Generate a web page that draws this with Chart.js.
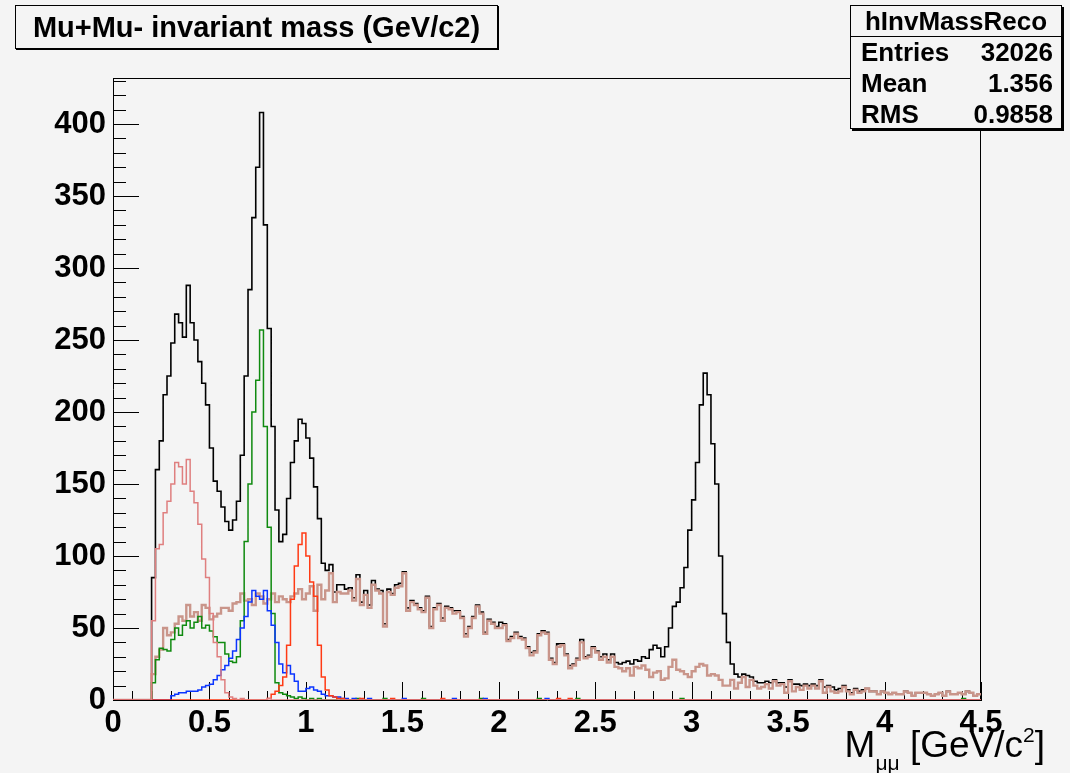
<!DOCTYPE html>
<html>
<head>
<meta charset="utf-8">
<script src="https://cdn.jsdelivr.net/npm/chart.js@4.4.0/dist/chart.umd.min.js"></script>
<style>
html,body{margin:0;padding:0;background:#f4f4f4;}
#wrap{position:relative;width:1070px;height:773px;overflow:hidden;background:#f4f4f4;}
#c{position:absolute;left:0;top:0;}
.box{position:absolute;box-sizing:border-box;background:#f4f4f4;border:1px solid #000;
  font-family:"Liberation Sans",Arial,Helvetica,sans-serif;font-weight:bold;color:#000;}
#title{left:15px;top:5px;width:483px;height:44px;box-shadow:1px 1px 0 #000;
  font-size:29px;line-height:42px;text-align:center;white-space:nowrap;}
#stats{left:850px;top:5px;width:212px;height:124px;box-shadow:2px 2px 0 #000;font-size:26px;}
#stats .st{height:30px;line-height:30px;text-align:center;border-bottom:1px solid #000;}
#stats .row{height:31px;line-height:31px;display:flex;justify-content:space-between;padding:0 8px 0 10px;}
#xtitle{position:absolute;right:25px;top:723px;font-family:"Liberation Sans",Arial,Helvetica,sans-serif;
  font-size:37px;color:#000;white-space:nowrap;}
#xtitle sub{font-size:21px;vertical-align:-13px;}
#xtitle sup{font-size:21px;vertical-align:15px;}
</style>
</head>
<body>
<div id="wrap">
<canvas id="c" width="1070" height="773"></canvas>
<div id="title" class="box">Mu+Mu- invariant mass (GeV/c2)</div>
<div id="stats" class="box">
  <div class="st">hInvMassReco</div>
  <div class="row"><span>Entries</span><span>32026</span></div>
  <div class="row"><span>Mean</span><span>1.356</span></div>
  <div class="row"><span>RMS</span><span>0.9858</span></div>
</div>
<div id="xtitle">M<sub>μμ</sub> [GeV/c<sup>2</sup>]</div>
</div>
<script>
// ---- binning (GeV) ----
const X_MIN = 0, X_MAX = 4.5, BIN_W = 0.02;   // 225 bins
const Y_MAX = 432;
const X_TICKS = [0, 0.5, 1, 1.5, 2, 2.5, 3, 3.5, 4, 4.5];
const X_TICK_LABELS = ["0", "0.5", "1", "1.5", "2", "2.5", "3", "3.5", "4", "4.5"];
const Y_TICKS = [0, 50, 100, 150, 200, 250, 300, 350, 400];
const Y_TICK_LABELS = ["0", "50", "100", "150", "200", "250", "300", "350", "400"];

// ---- total (black) ----
const totalCounts = [
  0,0,0,0,0, 0,0,0,0,0, 85,160,180,212,225, 248,268,262,252,288, 262,250,235,220,205,
  175,152,145,134,124, 118,125,138,170,225, 285,335,370,408,330, 258,190,132,110,115, 140,165,180,195,192,
  182,168,148,126,95, 90,94,75,80,80, 77,78,71,87,68, 76,66,83,77,76, 53,77,74,80,81,
  89,64,69,67,64, 62,72,51,64,67, 57,65,64,62,62, 58,46,51,58,66, 61,47,56,54,51,
  54,53,42,44,47, 44,43,37,33,34, 46,48,47,29,26, 39,39,32,24,25, 29,42,30,31,37,
  34,30,32,28,32, 26,25,26,27,25, 28,27,30,29,35, 38,36,30,37,50, 65,68,78,92,118,
  139,165,205,227,212, 178,150,100,60,40, 25,18,16,18,17, 16,13,12,12,13, 12,14,12,12,9,
  14,11,11,10,11, 10,11,10,14,9, 10,9,7,8,10, 7,5,8,6,7, 8,6,6,4,6,
  5,4,5,4,4, 6,5,3,5,5, 5,4,3,4,5, 3,6,4,4,5, 4,6,5,3,4
];
// ---- continuum (brown) ----
const continuumCounts = [
  0,0,0,0,0, 0,0,0,0,0, 18,30,35,50,45, 47,53,58,55,66, 58,61,55,66,64,
  56,58,60,64,64, 62,67,68,74,69, 70,66,74,72,67, 70,74,68,72,70, 68,72,74,77,70,
  74,79,62,80,70, 76,88,68,75,74, 74,76,69,84,66, 73,64,80,76,74, 51,75,73,78,79,
  88,62,68,66,63, 61,71,50,63,66, 55,64,63,60,61, 57,44,50,57,65, 60,46,55,53,50,
  50,52,41,43,46, 43,42,36,31,33, 45,47,46,28,25, 37,38,31,22,24, 28,40,29,30,36,
  33,28,30,26,30, 23,22,20,22,17, 23,22,24,21,16, 19,20,14,15,23, 28,21,20,18,16,
  20,23,25,24,17, 18,17,14,10,10, 14,8,12,16,9, 14,10,8,9,11, 8,13,10,11,5,
  13,6,9,7,10, 8,10,8,13,5, 9,6,5,6,9, 6,4,7,5,6, 8,6,6,4,6,
  5,4,5,4,4, 6,5,3,5,5, 5,4,3,4,5, 3,6,4,4,5, 4,6,5,3,4
];
// ---- eta Dalitz (salmon) ----
const etaCounts = [
  0,0,0,0,0, 0,0,0,0,0, 55,105,108,130,138, 150,165,162,150,167, 145,137,122,98,85,
  60,40,30,14,5, 2,1,0,1,0, 0,0,0,0,0, 1,0,0,0,0, 0,0,0,0,0,
  0,0,0,0,0, 0,0,0,0,0, 0,0,0,0,0, 0,0,0,0,0, 0,0,0,0,0,
  0,0,0,0,0, 0,0,0,0,0, 0,0,0,0,0, 0,0,0,0,0, 0,0,0,0,0,
  0,0,0,0,0, 0,0,0,0,0, 0,0,0,0,0, 0,0,0,0,0, 0,0,0,0,0,
  0,0,0,0,0, 0,0,0,0,0, 0,0,0,0,0, 0,0,0,0,0, 0,0,0,0,0,
  0,0,0,0,0, 0,0,0,0,0, 0,0,0,0,0, 0,0,0,0,0, 0,0,0,0,0,
  0,0,0,0,0, 0,0,0,0,0, 0,0,0,0,0, 0,0,0,0,0, 0,0,0,0,0,
  0,0,0,0,0, 0,0,0,0,0, 0,0,0,0,0, 0,0,0,0,0, 0,0,0,0,0
];
// ---- omega (green) ----
const omegaCounts = [
  0,0,0,0,0, 0,0,0,0,0, 12,28,36,35,34, 42,50,45,52,55, 50,54,58,50,52,
  48,44,40,40,32, 27,26,30,55,110, 150,200,222,257,190, 120,60,12,5,4, 3,2,1,2,1,
  0,1,0,1,0, 0,0,0,1,0, 0,0,0,1,0, 0,0,0,0,0, 1,0,0,0,0,
  0,0,0,0,0, 1,0,0,0,0, 0,0,0,0,0, 0,0,0,0,0, 1,0,0,0,0,
  0,0,0,0,0, 0,0,0,0,0, 1,0,0,0,0, 0,0,0,0,0, 1,0,0,0,0,
  0,0,0,0,0, 0,0,0,0,0, 0,0,0,0,0, 0,0,0,0,0, 0,0,1,0,0,
  0,0,0,0,0, 0,0,0,0,0, 0,0,0,0,0, 0,0,0,0,0, 0,0,0,0,0,
  0,0,0,0,0, 0,0,0,0,0, 0,0,0,0,0, 0,0,0,0,0, 0,0,0,0,0,
  0,0,0,0,0, 0,0,0,0,0, 0,0,0,0,0, 0,0,0,0,0, 1,0,0,0,0
];
// ---- rho (blue) ----
const rhoCounts = [
  0,0,0,0,0, 0,0,0,0,0, 0,0,0,0,0, 3,4,5,5,6, 6,6,7,9,10,
  11,14,17,21,24, 29,34,42,50,58, 68,76,72,70,76, 62,52,40,25,19, 24,18,13,6,6,
  8,9,7,6,4, 3,3,2,2,1, 1,0,1,0,0, 0,1,0,0,0, 0,0,0,0,0,
  1,0,0,0,0, 0,0,0,0,0, 0,0,0,1,0, 0,0,0,0,0, 0,1,0,0,0,
  0,0,0,0,0, 0,0,0,0,0, 0,0,1,0,0, 0,0,0,0,0, 0,0,0,0,0,
  0,0,0,0,0, 0,0,0,0,0, 0,0,0,0,0, 0,0,0,0,0, 0,0,0,0,0,
  0,0,0,0,0, 0,0,0,0,0, 0,0,0,0,0, 0,0,0,0,0, 0,0,0,0,0,
  0,0,0,0,0, 0,0,0,0,0, 0,0,0,0,0, 0,0,0,0,0, 0,0,0,0,0,
  0,0,0,0,0, 0,0,0,0,0, 0,0,0,0,0, 0,0,0,0,0, 0,0,0,0,0
];
// ---- phi (red) ----
const phiCounts = [
  0,0,0,0,0, 0,0,0,0,0, 0,0,0,0,0, 0,0,0,0,0, 0,0,0,0,0,
  0,0,0,0,0, 0,0,0,0,0, 0,0,0,0,0, 1,4,6,10,16, 38,70,93,108,116,
  100,82,72,38,16, 7,3,2,1,1, 0,0,0,0,1, 0,0,0,0,0, 0,0,1,0,0,
  0,0,0,0,0, 0,0,0,0,0, 1,0,0,0,0, 0,0,0,0,0, 0,0,0,0,0,
  0,0,0,0,0, 0,0,0,0,0, 0,0,0,0,0, 1,0,0,1,0, 0,0,0,0,0,
  0,0,0,0,0, 0,0,0,0,0, 0,0,0,0,0, 0,0,0,0,0, 0,0,0,0,0,
  0,0,0,0,0, 0,0,0,0,0, 0,0,0,0,0, 0,0,0,0,0, 0,0,0,0,0,
  0,0,0,0,0, 0,0,0,0,0, 0,0,0,0,0, 0,0,0,0,0, 0,0,0,0,0,
  0,0,0,0,0, 0,0,0,0,0, 0,0,0,0,0, 0,0,0,0,0, 0,0,0,0,0
];

// histogram outline: each bin contributes its two edges at its own height
function histPoints(counts) {
  const pts = [];
  counts.forEach((v, i) => {
    const lo = X_MIN + i * BIN_W;
    pts.push({x: lo, y: v});
    pts.push({x: Math.min(lo + BIN_W, X_MAX), y: v});
  });
  return pts;
}
function ds(label, counts, color, width) {
  return {label, data: histPoints(counts), borderColor: color, borderWidth: width,
    pointRadius: 0, fill: false, tension: 0, spanGaps: true};
}

const FONT = '"Liberation Sans", Arial, Helvetica, sans-serif';

const axisDecor = {
  id: 'axisDecor',
  beforeDatasetsDraw(chart) {
    const {ctx, chartArea: a, scales: {x, y}} = chart;
    ctx.save();
    ctx.strokeStyle = '#000';
    ctx.lineWidth = 1;
    ctx.beginPath();
    ctx.moveTo(a.left, a.top + 0.5); ctx.lineTo(a.right, a.top + 0.5);
    ctx.moveTo(a.right - 0.5, a.top); ctx.lineTo(a.right - 0.5, a.bottom);
    for (let v = 0; v <= Y_MAX; v += 10) {
      const py = Math.round(y.getPixelForValue(v)) + 0.5;
      const len = (v % 50 === 0) ? 26 : 13;
      ctx.moveTo(a.left, py); ctx.lineTo(a.left + len, py);
    }
    for (let i = 0; i <= 45; i++) {
      const px = Math.round(x.getPixelForValue(i / 10)) + 0.5;
      const len = (i % 5 === 0) ? 18 : 9;
      ctx.moveTo(px, a.bottom); ctx.lineTo(px, a.bottom - len);
    }
    ctx.stroke();
    ctx.restore();
  }
};

new Chart(document.getElementById('c'), {
  type: 'line',
  data: {
    datasets: [
      ds('eta', etaCounts, '#df7f7f', 1.5),
      ds('phi', phiCounts, '#ff3a14', 1.5),
      ds('rho', rhoCounts, '#0b35ff', 1.5),
      ds('omega', omegaCounts, '#0f8a0f', 1.5),
      ds('continuum', continuumCounts, '#c9958a', 2.4),
      ds('total', totalCounts, '#000000', 1.6)
    ]
  },
  options: {
    responsive: false,
    animation: false,
    devicePixelRatio: 1,
    layout: {padding: {left: 0, right: 89, top: 78, bottom: 0}},
    plugins: {legend: {display: false}, tooltip: {enabled: false}, title: {display: false}},
    scales: {
      x: {
        type: 'linear', position: 'bottom', min: X_MIN, max: X_MAX,
        grid: {display: false, drawTicks: false},
        border: {display: true, color: '#000', width: 1},
        ticks: {
          color: '#000', padding: 5, maxRotation: 0, autoSkip: false,
          font: {family: FONT, size: 31, weight: 'bold'},
          callback: (v) => { const k = X_TICKS.indexOf(v); return k >= 0 ? X_TICK_LABELS[k] : ''; }
        },
        afterBuildTicks: (s) => { s.ticks = X_TICKS.map(v => ({value: v})); },
        afterFit: (s) => { s.height = 73; }
      },
      y: {
        type: 'linear', position: 'left', min: 0, max: Y_MAX,
        grid: {display: false, drawTicks: false},
        border: {display: true, color: '#000', width: 1},
        ticks: {
          color: '#000', padding: 7,
          font: {family: FONT, size: 31, weight: 'bold'},
          callback: (v) => { const k = Y_TICKS.indexOf(v); return k >= 0 ? Y_TICK_LABELS[k] : ''; }
        },
        afterBuildTicks: (s) => { s.ticks = Y_TICKS.map(v => ({value: v})); },
        afterFit: (s) => { s.width = 113; }
      }
    }
  },
  plugins: [axisDecor]
});
</script>
</body>
</html>
